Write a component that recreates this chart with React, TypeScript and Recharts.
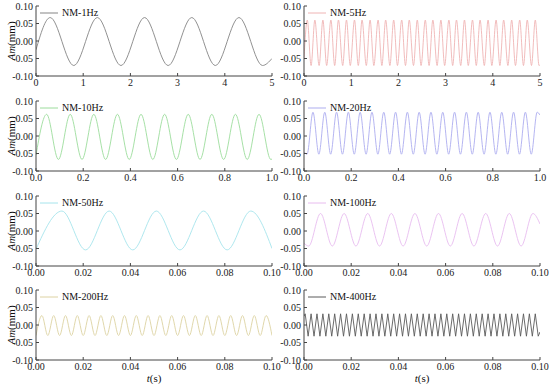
import { LineChart, Line, XAxis, YAxis, Legend } from 'recharts';

const FONT = '"Liberation Serif", "Times New Roman", Times, serif';

// amplitude rows are [value at start, peak, trough, value at end]

// NM-1Hz, 0-5 s
const peakT1 = [0.3, 1.3, 2.3, 3.3, 4.3];
const troughT1 = [0.8, 1.8, 2.8, 3.8, 4.8];
const amp1 = [-0.025, 0.067, -0.07, -0.05];

// NM-5Hz, 0-5 s
const peakT2 = [0.07, 0.23, 0.4, 0.57, 0.73, 0.9, 1.07, 1.23, 1.4, 1.57, 1.73, 1.9, 2.07, 2.23, 2.4, 2.57, 2.73, 2.9, 3.07, 3.23, 3.4, 3.57, 3.73, 3.9, 4.07, 4.23, 4.4, 4.57, 4.73, 4.9];
const troughT2 = [0.15, 0.32, 0.48, 0.65, 0.82, 0.98, 1.15, 1.32, 1.48, 1.65, 1.82, 1.98, 2.15, 2.32, 2.48, 2.65, 2.82, 2.98, 3.15, 3.32, 3.48, 3.65, 3.82, 3.98, 4.15, 4.32, 4.48, 4.65, 4.82, 4.98];
const amp2 = [-0.05, 0.06, -0.07, -0.068];

// NM-10Hz, 0-1 s
const peakT3 = [0.045, 0.145, 0.245, 0.345, 0.445, 0.545, 0.645, 0.745, 0.845, 0.945];
const troughT3 = [0.095, 0.195, 0.295, 0.395, 0.495, 0.595, 0.695, 0.795, 0.895, 0.995];
const amp3 = [-0.055, 0.062, -0.067, -0.066];

// NM-20Hz, 0-1 s
const peakT4 = [0.038, 0.088, 0.138, 0.188, 0.238, 0.288, 0.338, 0.388, 0.438, 0.488, 0.538, 0.588, 0.638, 0.688, 0.738, 0.788, 0.838, 0.888, 0.938, 0.988];
const troughT4 = [0.013, 0.063, 0.113, 0.163, 0.213, 0.263, 0.313, 0.363, 0.413, 0.463, 0.513, 0.563, 0.613, 0.663, 0.713, 0.763, 0.813, 0.863, 0.913, 0.963];
const amp4 = [-0.045, 0.068, -0.052, 0.06];

// NM-50Hz, 0-0.1 s
const peakT5 = [0.011, 0.031, 0.051, 0.071, 0.091];
const troughT5 = [0.021, 0.041, 0.061, 0.081];
const amp5 = [-0.052, 0.057, -0.054, -0.05];

// NM-100Hz, 0-0.1 s
const peakT6 = [0.007, 0.017, 0.027, 0.037, 0.047, 0.057, 0.067, 0.077, 0.087, 0.097];
const troughT6 = [0.002, 0.012, 0.022, 0.032, 0.042, 0.052, 0.062, 0.072, 0.082, 0.092];
const amp6 = [-0.035, 0.05, -0.043, 0.02];

// NM-200Hz, 0-0.1 s
const peakT7 = [0.0025, 0.0075, 0.0125, 0.0175, 0.0225, 0.0275, 0.0325, 0.0375, 0.0425, 0.0475, 0.0525, 0.0575, 0.0625, 0.0675, 0.0725, 0.0775, 0.0825, 0.0875, 0.0925, 0.0975];
const troughT7 = [0.005, 0.01, 0.015, 0.02, 0.025, 0.03, 0.035, 0.04, 0.045, 0.05, 0.055, 0.06, 0.065, 0.07, 0.075, 0.08, 0.085, 0.09, 0.095];
const amp7 = [-0.03, 0.027, -0.03, -0.03];

// NM-400Hz, 0-0.1 s
const peakT8 = [0.0005, 0.003, 0.0055, 0.008, 0.0105, 0.013, 0.0155, 0.018, 0.0205, 0.023, 0.0255, 0.028, 0.0305, 0.033, 0.0355, 0.038, 0.0405, 0.043, 0.0455, 0.048, 0.0505, 0.053, 0.0555, 0.058, 0.0605, 0.063, 0.0655, 0.068, 0.0705, 0.073, 0.0755, 0.078, 0.0805, 0.083, 0.0855, 0.088, 0.0905, 0.093, 0.0955, 0.098];
const troughT8 = [0.00175, 0.00425, 0.00675, 0.00925, 0.01175, 0.01425, 0.01675, 0.01925, 0.02175, 0.02425, 0.02675, 0.02925, 0.03175, 0.03425, 0.03675, 0.03925, 0.04175, 0.04425, 0.04675, 0.04925, 0.05175, 0.05425, 0.05675, 0.05925, 0.06175, 0.06425, 0.06675, 0.06925, 0.07175, 0.07425, 0.07675, 0.07925, 0.08175, 0.08425, 0.08675, 0.08925, 0.09175, 0.09425, 0.09675, 0.09925];
const amp8 = [0.025, 0.032, -0.032, -0.02];

// axis ticks
const ticks5 = [0, 1, 2, 3, 4, 5];
const minor5 = [0.5, 1.5, 2.5, 3.5, 4.5];
const ticks1 = [0, 0.2, 0.4, 0.6, 0.8, 1.0];
const minor1 = [0.1, 0.3, 0.5, 0.7, 0.9];
const ticks01 = [0, 0.02, 0.04, 0.06, 0.08, 0.1];
const minor01 = [0.01, 0.03, 0.05, 0.07, 0.09];
const ampTicks = [-0.1, -0.05, 0, 0.05, 0.1];
const ampMinor = [-0.075, -0.025, 0.025, 0.075];

const toPoints = (peaks: number[], troughs: number[], amp: number[], xMax: number) =>
  [
    { t: 0, v: amp[0] },
    ...peaks.map((t) => ({ t, v: amp[1] })),
    ...troughs.map((t) => ({ t, v: amp[2] })),
    { t: xMax, v: amp[3] },
  ].sort((a, b) => a.t - b.t);

const fmt0 = (v: number) => String(v);
const fmt1 = (v: number) => v.toFixed(1);
const fmt2 = (v: number) => v.toFixed(2);

const panels = [
  { name: 'NM-1Hz', color: '#858585', data: toPoints(peakT1, troughT1, amp1, 5), xMax: 5, ticks: ticks5, minor: minor5, fmt: fmt0, curve: 'monotone' },
  { name: 'NM-5Hz', color: '#efb4b4', data: toPoints(peakT2, troughT2, amp2, 5), xMax: 5, ticks: ticks5, minor: minor5, fmt: fmt0, curve: 'monotone' },
  { name: 'NM-10Hz', color: '#9cdc9c', data: toPoints(peakT3, troughT3, amp3, 1), xMax: 1, ticks: ticks1, minor: minor1, fmt: fmt1, curve: 'monotone' },
  { name: 'NM-20Hz', color: '#adadef', data: toPoints(peakT4, troughT4, amp4, 1), xMax: 1, ticks: ticks1, minor: minor1, fmt: fmt1, curve: 'monotone' },
  { name: 'NM-50Hz', color: '#a6e4ec', data: toPoints(peakT5, troughT5, amp5, 0.1), xMax: 0.1, ticks: ticks01, minor: minor01, fmt: fmt2, curve: 'monotone' },
  { name: 'NM-100Hz', color: '#e8bcef', data: toPoints(peakT6, troughT6, amp6, 0.1), xMax: 0.1, ticks: ticks01, minor: minor01, fmt: fmt2, curve: 'monotone' },
  { name: 'NM-200Hz', color: '#ddd2a2', data: toPoints(peakT7, troughT7, amp7, 0.1), xMax: 0.1, ticks: ticks01, minor: minor01, fmt: fmt2, curve: 'monotone' },
  { name: 'NM-400Hz', color: '#5a5a5a', data: toPoints(peakT8, troughT8, amp8, 0.1), xMax: 0.1, ticks: ticks01, minor: minor01, fmt: fmt2, curve: 'linear' },
];

const PLOT_TOPS = [6, 101, 196, 290];
const AXIS = '#444';
const tickText = { fill: '#1a1a1a', fontSize: 10, fontFamily: FONT };

const renderLegend = (props: any) => (
  <div style={{ display: 'flex', alignItems: 'center', fontFamily: FONT, fontSize: 10, color: '#111', lineHeight: '12px' }}>
    {(props.payload || []).map((e: any) => (
      <span key={e.value} style={{ display: 'flex', alignItems: 'center' }}>
        <svg width={18} height={6}>
          <line x1={0} y1={3} x2={18} y2={3} stroke={e.color} strokeWidth={1} />
        </svg>
        <span style={{ marginLeft: 4 }}>{e.value}</span>
      </span>
    ))}
  </div>
);

const Panel = ({ p, index }: { p: (typeof panels)[number]; index: number }) => {
  const col = index % 2;
  const row = Math.floor(index / 2);
  const bottom = row === 3;
  const height = bottom ? 100 : 94;
  const width = col === 0 ? 290 : 275;
  const margin = col === 0 ? { top: 6, right: 18, left: 6, bottom: 0 } : { top: 6, right: 10, left: 0, bottom: 0 };
  const yWidth = col === 0 ? 30 : 29;
  const plotLeft = col === 0 ? 36 : 29;
  const domain = [0, p.xMax];

  return (
    <div style={{ position: 'absolute', left: col * 275, top: PLOT_TOPS[row] - 6 }}>
      <LineChart width={width} height={height} data={p.data} margin={margin}>
        {/* minor ticks first so they sit on the frame */}
        <XAxis xAxisId="minB" dataKey="t" type="number" domain={domain} allowDataOverflow ticks={p.minor} tick={false} tickSize={-2} axisLine={false} height={0} stroke={AXIS} />
        <YAxis yAxisId="minL" type="number" domain={[-0.1, 0.1]} allowDataOverflow ticks={ampMinor} tick={false} tickSize={-2} axisLine={false} width={0} stroke={AXIS} />
        <XAxis
          dataKey="t"
          type="number"
          domain={domain}
          allowDataOverflow
          ticks={p.ticks}
          interval={0}
          tickFormatter={p.fmt}
          tickSize={-3}
          tickMargin={6}
          height={bottom ? 24 : 18}
          stroke={AXIS}
          tick={tickText}
          label={
            bottom
              ? ({ viewBox }: any) => {
                  const cx = viewBox.x + viewBox.width / 2;
                  return (
                    <text x={cx} y={viewBox.y + 18} textAnchor="middle" dominantBaseline="central" fontFamily={FONT} fontSize={11} fill="#111">
                      <tspan fontStyle="italic">t</tspan>(s)
                    </text>
                  );
                }
              : undefined
          }
        />
        <YAxis
          type="number"
          domain={[-0.1, 0.1]}
          allowDataOverflow
          ticks={ampTicks}
          interval={0}
          tickFormatter={fmt2}
          tickSize={-3}
          tickMargin={6}
          width={yWidth}
          stroke={AXIS}
          tick={tickText}
          label={
            col === 0
              ? ({ viewBox }: any) => {
                  const cy = viewBox.y + viewBox.height / 2;
                  return (
                    <text x={11} y={cy} transform={`rotate(-90, 11, ${cy})`} textAnchor="middle" dominantBaseline="central" fontFamily={FONT} fontSize={11} fill="#111">
                      <tspan fontStyle="italic">Am</tspan>(mm)
                    </text>
                  );
                }
              : undefined
          }
        />
        {/* mirrored frame on top and right */}
        <XAxis xAxisId="minT" orientation="top" type="number" domain={domain} allowDataOverflow ticks={p.minor} tick={false} tickSize={-2} axisLine={false} height={0} stroke={AXIS} />
        <XAxis xAxisId="top" orientation="top" type="number" domain={domain} allowDataOverflow ticks={p.ticks} tick={false} tickSize={-3} height={0} stroke={AXIS} />
        <YAxis yAxisId="minR" orientation="right" type="number" domain={[-0.1, 0.1]} allowDataOverflow ticks={ampMinor} tick={false} tickSize={-2} axisLine={false} width={0} stroke={AXIS} />
        <YAxis yAxisId="right" orientation="right" type="number" domain={[-0.1, 0.1]} allowDataOverflow ticks={ampTicks} tick={false} tickSize={-3} width={0} stroke={AXIS} />
        <Line
          type={p.curve as any}
          dataKey="v"
          name={p.name}
          stroke={p.color}
          strokeWidth={0.9}
          dot={false}
          activeDot={false}
          isAnimationActive={false}
        />
        <Legend
          layout="horizontal"
          verticalAlign="middle"
          align="center"
          content={renderLegend}
          wrapperStyle={{ left: plotLeft + 4, top: 7, width: 'auto' }}
        />
      </LineChart>
    </div>
  );
};

export default function App() {
  return (
    <div style={{ position: 'absolute', left: 0, top: 0, width: 550, height: 384, background: '#fff', overflow: 'hidden' }}>
      {panels.map((p, i) => (
        <Panel key={p.name} p={p} index={i} />
      ))}
    </div>
  );
}
